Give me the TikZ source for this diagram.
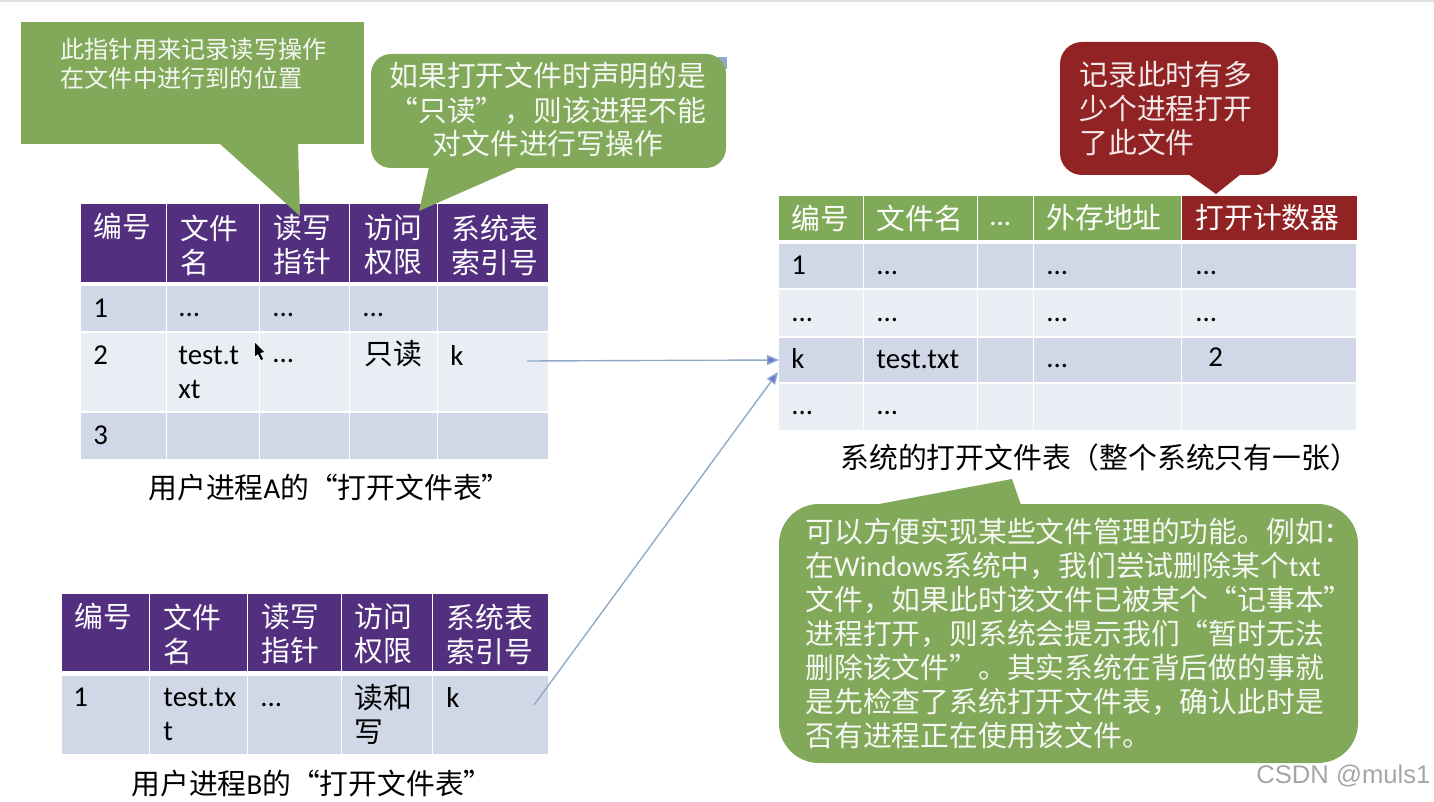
\documentclass[tikz,border=0pt]{standalone}
\usepackage{fontspec}
\setmainfont{Noto Sans CJK SC}
\newfontfamily\latfont{Carlito}
\newfontfamily\markfont{Liberation Sans}
\usetikzlibrary{arrows.meta,positioning}
\definecolor{barpurple}{HTML}{53307F}
\definecolor{bargreen}{HTML}{7FAA58}
\definecolor{barred}{HTML}{922325}
\definecolor{rowdark}{HTML}{D0D8E8}
\definecolor{rowlight}{HTML}{E9EDF4}
\definecolor{tipgreen}{HTML}{82A85A}
\definecolor{linkblue}{HTML}{8FA9C8}
\newcommand{\lat}[1]{{\latfont #1}}
\newcommand{\more}{{\latfont ...}}
\tikzset{
    cell/.style={anchor=north west, inner sep=0pt, outer sep=0pt},
    txt/.style={anchor=west, inner sep=0pt, align=left, font=\fontsize{14.4}{17}\selectfont},
    headtxt/.style={txt, text=white},
    tiptxt/.style={txt, text=white!92!tipgreen},
    bubble/.style={cell, fill=tipgreen},
    link/.style={draw=linkblue, line width=0.7pt, -{Triangle[length=6pt,width=5pt,fill=linkblue!70!blue]}}
}
\begin{document}
\begin{tikzpicture}[x=0.5pt,y=-0.5pt]
    \useasboundingbox (0,0) rectangle (1434,802);
    \fill[black!12] (0,0) rectangle (1434,2);

    % the three tables
    \foreach \a/\b [count=\i] in {81/167,167/260,260/350,350/438,438/549}
    \foreach \c/\d/\f [count=\j] in {204/282/barpurple,286/331/rowdark,333/411/rowlight,413/459/rowdark}
    {
        \node[cell, fill=\f, minimum width={(\b-\a-1.5)*0.5pt}, minimum height={(\d-\c)*0.5pt}] (A\i-\j) at (\a,\c) {};
    }
    \foreach \a/\b [count=\i] in {62/150,150/248,248/342,342/433,433/549}
    \foreach \c/\d/\f [count=\j] in {594/671/barpurple,676/754/rowdark}
    {
        \node[cell, fill=\f, minimum width={(\b-\a-1.5)*0.5pt}, minimum height={(\d-\c)*0.5pt}] (B\i-\j) at (\a,\c) {};
    }
    \foreach \a/\b [count=\i] in {779/864,864/978,978/1034,1034/1182,1182/1357}
    \foreach \c/\d/\f [count=\j] in {196/240/bargreen,244/288/rowdark,290/336/rowlight,338/382/rowdark,384/430/rowlight}
    {
        \node[cell, fill=\f, minimum width={(\b-\a-1.5)*0.5pt}, minimum height={(\d-\c)*0.5pt}] (S\i-\j) at (\a,\c) {};
    }
    \node[cell, fill=barred, minimum width=87.5pt, minimum height=22pt] (S5-1) at (1182,196) {};

    % table texts
    \foreach \x/\y/\t in {
        93/226/编号, 180/245/文件\\名, 273/245/读写\\指针, 364/245/访问\\权限, 451/245/系统表\\索引号,
        74/616/编号, 163/634/文件\\名, 261/634/读写\\指针, 354/634/访问\\权限, 446/634/系统表\\索引号,
        791/218/编号, 876/218/文件名, 989/224/\more, 1046/218/外存地址, 1195/218/打开计数器
    }
    {
        \node[headtxt] at (\x,\y) {\t};
    }
    \foreach \x/\y/\t in {
        93/308/\lat{1}, 178/315/\more, 272/315/\more, 362/315/\more,
        93/355/\lat{2}, 178/372/\lat{test.t}\\\lat{xt}, 272/361/\more, 364/354/只读, 450/355/\lat{k},
        93/435/\lat{3},
        73/697/\lat{1}, 163/714/\lat{test.tx}\\\lat{t}, 260/705/\more, 354/714/读和\\写, 446/697/\lat{k},
        791/265/\lat{1}, 876/273/\more, 1046/273/\more, 1195/273/\more,
        791/320/\more, 876/320/\more, 1046/320/\more, 1195/320/\more,
        791/359/\lat{k}, 876/360/\lat{test.txt}, 1046/366/\more, 1208/357/\lat{2},
        791/413/\more, 876/413/\more
    }
    {
        \node[txt] at (\x,\y) {\t};
    }
    \node[txt] (capA) at (148,488) {用户进程\lat{A}的“打开文件表”};
    \node[txt] (capB) at (131,784) {用户进程\lat{B}的“打开文件表”};
    \node[txt] (capS) at (840,458) {系统的打开文件表（整个系统只有一张）};

    % the mouse pointer
    \fill[black] (255,343) -- (255,356) -- (258,354) -- (261,360) -- (263,359) -- (260,353) -- (264,352) -- cycle;

    % links between the tables
    \coordinate (fromA) at (527,361);
    \coordinate (fromB) at (534,705);
    \coordinate (slotB) at (778,372);
    \draw[link] (fromA) -- (S1-4.west);
    \draw[link] (fromB) -- (slotB);

    % callouts
    \node[bubble, minimum width=171.5pt, minimum height=61pt] (tipRW) at (21,22) {};
    \fill[tipgreen] (219,143) -- (300,216) -- (298,143) -- cycle;
    \node[tiptxt, font=\fontsize{12.1}{14.5}\selectfont] (tipRWt) at (60,64) {此指针用来记录读写操作\\在文件中进行到的位置};

    \fill[linkblue] (715,57) rectangle (727,69);
    \node[bubble, rounded corners=10pt, minimum width=177.5pt, minimum height=57pt] (tipRO) at (371,54) {};
    \fill[tipgreen] (429,167) -- (419,211) -- (519,167) -- cycle;
    \node[tiptxt, align=center] (tipROt) at (389,110) {如果打开文件时声明的是\\“只读”，则该进程不能\\对文件进行写操作};

    \node[bubble, fill=barred, rounded corners=11pt, minimum width=109pt, minimum height=66.5pt] (tipCnt) at (1060,42) {};
    \fill[barred] (1188,174) -- (1216,194) -- (1241,174) -- cycle;
    \node[tiptxt, text=white!90!barred] (tipCntt) at (1079,109) {记录此时有多\\少个进程打开\\了此文件};

    \node[bubble, rounded corners=20pt, minimum width=289.5pt, minimum height=129.5pt] (tipWin) at (779,504) {};
    \fill[tipgreen] (874,505) -- (1012,479) -- (1021,505) -- cycle;
    \node[tiptxt] (tipWint) at (805,634) {可以方便实现某些文件管理的功能。例如：\\在\lat{Windows}系统中，我们尝试删除某个\lat{txt}\\文件，如果此时该文件已被某个“记事本”\\进程打开，则系统会提示我们“暂时无法\\删除该文件”。其实系统在背后做的事就\\是先检查了系统打开文件表，确认此时是\\否有进程正在使用该文件。};

    \node[anchor=west, inner sep=0pt, text=black!35, font=\markfont\fontsize{12.8}{16}\selectfont] (mark) at (1256,776) {CSDN @muls1};
\end{tikzpicture}
\end{document}
